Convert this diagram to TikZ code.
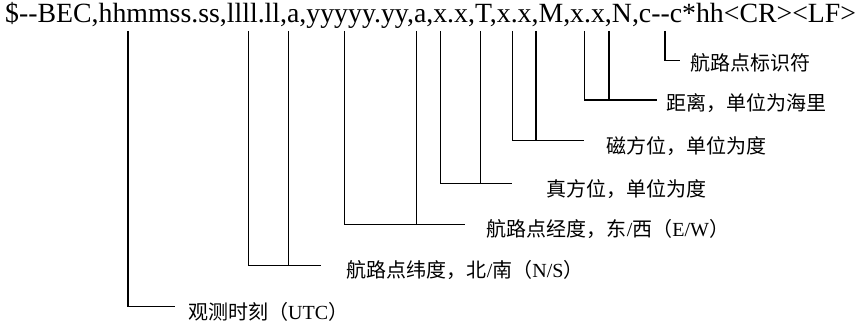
\documentclass[tikz,border=0pt]{standalone}
\usepackage{fontspec}
\setmainfont{Liberation Serif}
\newfontfamily\cjk{Noto Sans CJK SC}
\usetikzlibrary{positioning}
\tikzstyle{field} = [anchor=west, inner sep=0pt, font=\fontsize{20}{20}\selectfont]
\tikzstyle{tick} = [coordinate]
\tikzstyle{lead} = [line width=1.1pt]

\begin{document}
\begin{tikzpicture}[x=1pt,y=-1pt]
    \useasboundingbox (0,0) rectangle (868,323);
    \node [anchor=base west, inner sep=0pt, font=\fontsize{27.8}{28}\selectfont] (msg) at (5,23)
        {\$-{}-BEC,hhmmss.ss,llll.ll,a,yyyyy.yy,a,x.x,T,x.x,M,x.x,N,c-{}-c*hh<CR><LF>};

    % tops of the leader lines, under the sentence
    \coordinate (utcA) at (128,31);
    \coordinate (latA) at (248.3,31);
    \coordinate (latB) at (288.3,31);
    \coordinate (lonA) at (344.3,31);
    \coordinate (lonB) at (416.7,31);
    \coordinate (trueA) at (440.3,31);
    \coordinate (trueB) at (480.3,31);
    \coordinate (magA) at (512.3,31);
    \coordinate (magB) at (536,31);
    \coordinate (distA) at (584.3,31);
    \coordinate (distB) at (609,31);
    \coordinate (idA) at (665,31);

    % free ends of the horizontal strokes
    \coordinate (utcE) at (175,306.7);
    \coordinate (latE) at (320.7,265.7);
    \coordinate (lonE) at (465,224.3);
    \coordinate (trueE) at (512.3,183.3);
    \coordinate (magE) at (584.3,140.7);
    \coordinate (distE) at (656.7,100);
    \coordinate (idE) at (680,60.3);

    \node [field, right=13pt of utcE, yshift=-5pt] (utc) {{\cjk 观测时刻（}UTC{\cjk ）}};
    \node [field, right=26pt of latE, yshift=-4pt] (lat) {{\cjk 航路点纬度，北}/{\cjk 南（}N/S{\cjk ）}};
    \node [field, right=21.7pt of lonE, yshift=-4.5pt] (lon) {{\cjk 航路点经度，东}/{\cjk 西（}E/W{\cjk ）}};
    \node [field, right=34pt of trueE, yshift=-6pt] (true) {\cjk 真方位，单位为度};
    \node [field, right=22pt of magE, yshift=-5.5pt] (mag) {\cjk 磁方位，单位为度};
    \node [field, right=10pt of distE, yshift=-3pt] (dist) {\cjk 距离，单位为海里};
    \node [field, right=10pt of idE, yshift=-3pt] (id) {\cjk 航路点标识符};

    \draw [lead] (utcA) |- (utcE);
    \draw [lead] (latA) |- (latE);
    \draw [lead] (latB) -- (latB |- latE);
    \draw [lead] (lonA) |- (lonE);
    \draw [lead] (lonB) -- (lonB |- lonE);
    \draw [lead] (trueA) |- (trueE);
    \draw [lead] (trueB) -- (trueB |- trueE);
    \draw [lead] (magA) |- (magE);
    \draw [lead] (magB) -- (magB |- magE);
    \draw [lead] (distA) |- (distE);
    \draw [lead] (distB) -- (distB |- distE);
    \draw [lead] (idA) |- (idE);
\end{tikzpicture}
\end{document}
